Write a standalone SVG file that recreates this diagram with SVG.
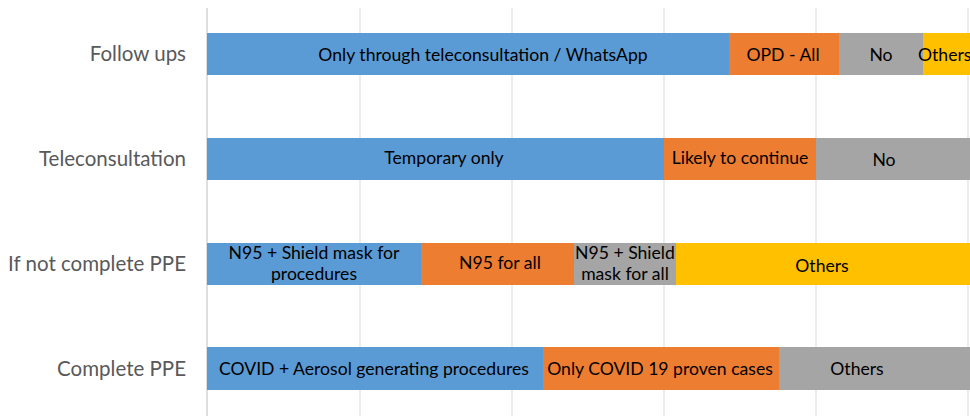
<svg xmlns="http://www.w3.org/2000/svg" width="970" height="416" viewBox="0 0 970 416">
<style>
.grid{stroke:#D9D9D9;stroke-width:1}
.axis{stroke:#BFBFBF;stroke-width:1}
.cat{font-family:"Lato","Open Sans",sans-serif;font-size:20.5px;fill:#595959;text-anchor:end}
.lbl{font-family:"Lato","Open Sans",sans-serif;font-size:17.6px;fill:#000;text-anchor:middle}
.b{fill:#5B9BD5}.o{fill:#ED7D31}.g{fill:#A5A5A5}.y{fill:#FFC000}
</style>
<rect width="970" height="416" fill="#fff"/>
<g id="gridlines">
<line class="grid" x1="360" y1="8" x2="360" y2="416"/>
<line class="grid" x1="512" y1="8" x2="512" y2="416"/>
<line class="grid" x1="664" y1="8" x2="664" y2="416"/>
<line class="grid" x1="816" y1="8" x2="816" y2="416"/>
<line class="grid" x1="968" y1="8" x2="968" y2="416"/>
<line class="axis" x1="207" y1="8" x2="207" y2="416"/>
</g>
<g id="categories">
<text class="cat" x="186" y="61">Follow ups</text>
<text class="cat" x="186" y="166">Teleconsultation</text>
<text class="cat" x="186" y="271">If not complete PPE</text>
<text class="cat" x="186" y="376">Complete PPE</text>
</g>
<g id="row-followups">
<rect class="b" x="207" y="33" width="522" height="42"/>
<rect class="o" x="729" y="33" width="110" height="42"/>
<rect class="g" x="839" y="33" width="84" height="42"/>
<rect class="y" x="923" y="33" width="47" height="42"/>
<text class="lbl" x="483" y="61">Only through teleconsultation / WhatsApp</text>
<text class="lbl" x="783" y="61">OPD - All</text>
<text class="lbl" x="881" y="61">No</text>
<text class="lbl" x="918" y="61" style="text-anchor:start">Others</text>
</g>
<g id="row-teleconsultation">
<rect class="b" x="207" y="138" width="457" height="42"/>
<rect class="o" x="664" y="138" width="152" height="42"/>
<rect class="g" x="816" y="138" width="154" height="42"/>
<text class="lbl" x="444" y="164">Temporary only</text>
<text class="lbl" x="740" y="164">Likely to continue</text>
<text class="lbl" x="884" y="166">No</text>
</g>
<g id="row-notcomplete">
<rect class="b" x="207" y="243" width="214" height="42"/>
<rect class="o" x="421" y="243" width="153" height="42"/>
<rect class="g" x="574" y="243" width="102" height="42"/>
<rect class="y" x="676" y="243" width="294" height="42"/>
<text class="lbl" x="314" y="259">N95 + Shield mask for</text>
<text class="lbl" x="314" y="280">procedures</text>
<text class="lbl" x="500" y="269">N95 for all</text>
<text class="lbl" x="625" y="259">N95 + Shield</text>
<text class="lbl" x="625" y="280">mask for all</text>
<text class="lbl" x="822" y="272">Others</text>
</g>
<g id="row-complete">
<rect class="b" x="207" y="347" width="336" height="43"/>
<rect class="o" x="543" y="347" width="236" height="43"/>
<rect class="g" x="779" y="347" width="191" height="43"/>
<text class="lbl" x="374" y="375">COVID + Aerosol generating procedures</text>
<text class="lbl" x="660" y="375">Only COVID 19 proven cases</text>
<text class="lbl" x="857" y="375">Others</text>
</g>
</svg>
